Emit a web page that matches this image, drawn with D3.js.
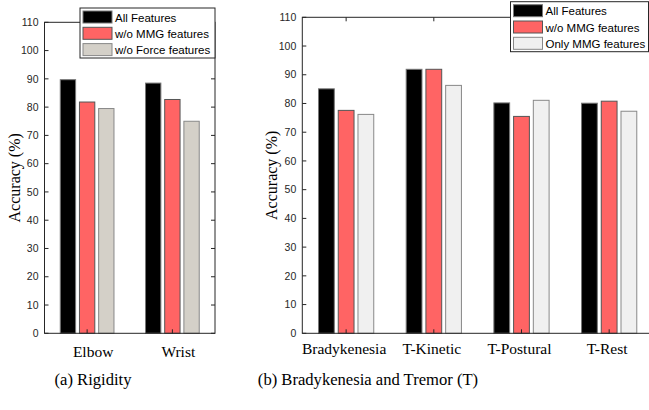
<!DOCTYPE html>
<html>
<head>
<meta charset="utf-8">
<script src="https://cdn.jsdelivr.net/npm/d3@7"></script>
<style>
  body { margin: 0; background: #fff; }
  svg { display: block; }
</style>
</head>
<body>
<div id="chart"></div>
<script>
// data
var rigidityJoints = ["Elbow", "Wrist"];
var rigiditySeries = ["All Features", "w/o MMG features", "w/o Force features"];
var rigidityAll = [89.7, 88.5];
var rigidityNoMMG = [81.8, 82.7];
var rigidityNoForce = [79.5, 75.0];

var tremorTasks = ["Bradykenesia", "T-Kinetic", "T-Postural", "T-Rest"];
var tremorSeries = ["All Features", "w/o MMG features", "Only MMG features"];
var tremorAll = [85.1, 91.9, 80.2, 80.1];
var tremorNoMMG = [77.6, 91.9, 75.5, 80.8];
var tremorOnlyMMG = [76.2, 86.3, 81.1, 77.3];

var yTicks = [0, 10, 20, 30, 40, 50, 60, 70, 80, 90, 100, 110];

var svgWidth = 649;
var svgHeight = 410;

var svg = d3.select("#chart")
    .append("svg")
    .attr("width", svgWidth)
    .attr("height", svgHeight);

var serif = "'Liberation Serif', 'Times New Roman', serif";
var sans = "'Liberation Sans', Helvetica, Arial, sans-serif";
var axisColor = "#262626";

function drawPanel(p) {
    var x = d3.scaleLinear()
        .domain([0.5, p.categories.length + 0.5])
        .range([p.left, p.right]);
    var y = d3.scaleLinear()
        .domain([0, 110])
        .range([p.bottom, p.top]);

    var g = svg.append("g");

    // bars, one group per series
    var offsets = [-0.225, 0, 0.225];
    var barW = 0.18;
    p.values.forEach(function(vals, s) {
        g.selectAll(null)
            .data(vals)
            .enter()
            .append("rect")
            .attr("x", (d, i) => x(i + 1 + offsets[s] - barW / 2))
            .attr("width", x(barW) - x(0))
            .attr("y", d => y(d))
            .attr("height", d => y(0) - y(d))
            .attr("fill", p.colors[s])
            .attr("stroke", p.strokes[s])
            .attr("stroke-width", 1);
    });

    // box
    g.append("rect")
        .attr("x", p.left)
        .attr("y", p.top)
        .attr("width", p.right - p.left)
        .attr("height", p.bottom - p.top)
        .attr("fill", "none")
        .attr("stroke", axisColor)
        .attr("stroke-width", 1);

    // y ticks both sides, pointing in
    var yt = g.selectAll(".ytick").data(yTicks).enter();
    yt.append("line")
        .attr("x1", p.left).attr("x2", p.left + 4)
        .attr("y1", d => y(d)).attr("y2", d => y(d))
        .attr("stroke", axisColor);
    yt.append("line")
        .attr("x1", p.right).attr("x2", p.right - 4)
        .attr("y1", d => y(d)).attr("y2", d => y(d))
        .attr("stroke", axisColor);
    yt.append("text")
        .attr("x", p.left - 6)
        .attr("y", d => y(d))
        .attr("dy", "0.35em")
        .attr("text-anchor", "end")
        .attr("font-family", sans)
        .attr("font-size", "10.5px")
        .attr("fill", axisColor)
        .text(d => d);

    // x ticks top and bottom
    var xt = g.selectAll(".xtick").data(p.categories).enter();
    xt.append("line")
        .attr("x1", (d, i) => x(i + 1)).attr("x2", (d, i) => x(i + 1))
        .attr("y1", p.bottom).attr("y2", p.bottom - 4)
        .attr("stroke", axisColor);
    xt.append("line")
        .attr("x1", (d, i) => x(i + 1)).attr("x2", (d, i) => x(i + 1))
        .attr("y1", p.top).attr("y2", p.top + 4)
        .attr("stroke", axisColor);
    xt.append("text")
        .attr("x", (d, i) => x(i + 1) + p.labelDx)
        .attr("y", p.labelY)
        .attr("text-anchor", "middle")
        .attr("font-family", serif)
        .attr("font-size", "15.5px")
        .attr("fill", "#000")
        .text(d => d);

    // y axis title
    g.append("text")
        .attr("transform", `translate(${p.ylabelX}, ${(p.top + p.bottom) / 2}) rotate(-90)`)
        .attr("text-anchor", "middle")
        .attr("font-family", serif)
        .attr("font-size", "16px")
        .attr("fill", "#000")
        .text("Accuracy (%)");

    // legend
    var lg = g.append("g");
    lg.append("rect")
        .attr("x", p.legend.x)
        .attr("y", p.legend.y)
        .attr("width", p.legend.w)
        .attr("height", p.legend.h)
        .attr("fill", "#fff")
        .attr("stroke", axisColor)
        .attr("stroke-width", 1);
    p.series.forEach(function(name, s) {
        var ry = p.legend.y + 3 + s * 16.3;
        lg.append("rect")
            .attr("x", p.legend.x + 3)
            .attr("y", ry)
            .attr("width", 29)
            .attr("height", 12)
            .attr("fill", p.colors[s])
            .attr("stroke", p.strokes[s]);
        lg.append("text")
            .attr("x", p.legend.x + 35)
            .attr("y", ry + 10.5)
            .attr("font-family", sans)
            .attr("font-size", "11.5px")
            .attr("fill", "#000")
            .text(name);
    });

    // caption
    g.append("text")
        .attr("x", p.captionX)
        .attr("y", 384.5)
        .attr("text-anchor", "middle")
        .attr("font-family", serif)
        .attr("font-size", "16.6px")
        .attr("fill", "#000")
        .text(p.caption);
}

drawPanel({
    categories: rigidityJoints,
    series: rigiditySeries,
    values: [rigidityAll, rigidityNoMMG, rigidityNoForce],
    colors: ["#000000", "#FF6464", "#D4D0C8"],
    strokes: ["#777777", "#555555", "#888888"],
    left: 44.5, right: 215, top: 22.3, bottom: 333.3,
    labelDx: 6, labelY: 356.5, ylabelX: 20,
    legend: { x: 80, y: 8, w: 135, h: 50 },
    captionX: 93, caption: "(a) Rigidity"
});

drawPanel({
    categories: tremorTasks,
    series: tremorSeries,
    values: [tremorAll, tremorNoMMG, tremorOnlyMMG],
    colors: ["#000000", "#FF6464", "#F0F0F0"],
    strokes: ["#777777", "#555555", "#888888"],
    left: 302.3, right: 653, top: 17.3, bottom: 333.3,
    labelDx: -2, labelY: 353.5, ylabelX: 277,
    legend: { x: 510.5, y: 1.7, w: 138, h: 50 },
    captionX: 368, caption: "(b) Bradykenesia and Tremor (T)"
});
</script>
</body>
</html>
